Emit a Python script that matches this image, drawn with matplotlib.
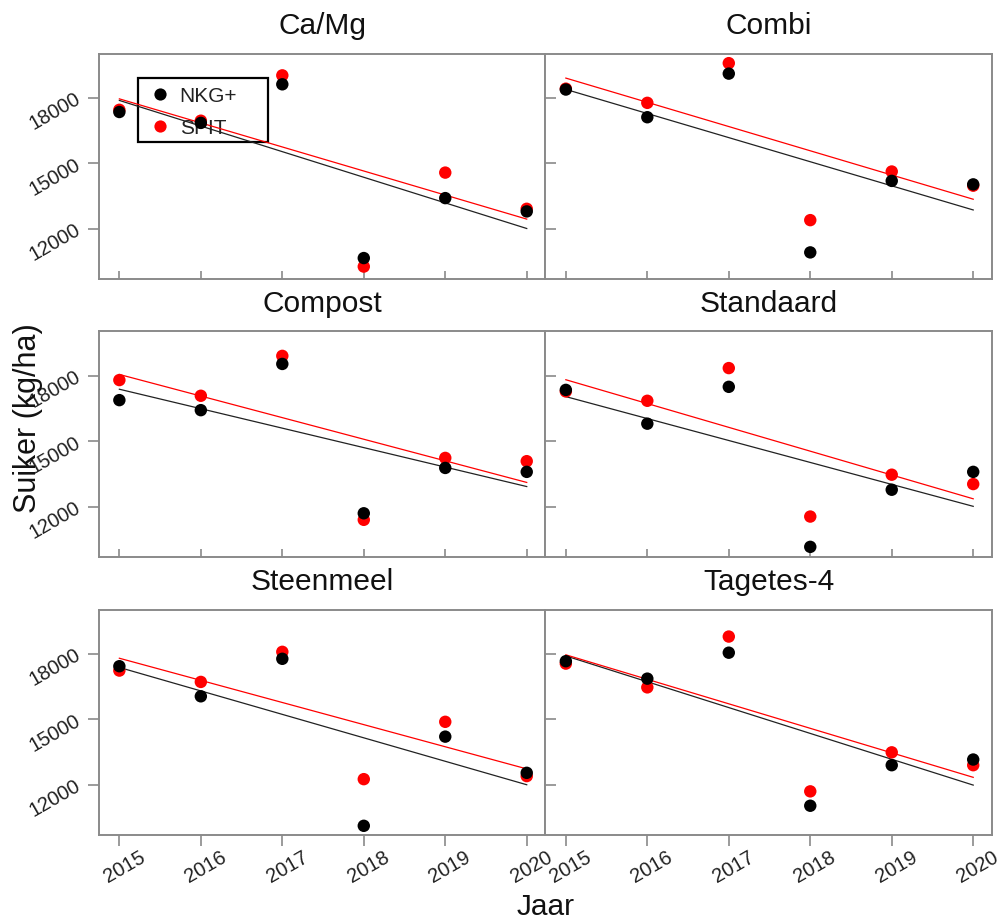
import numpy as np
import matplotlib
matplotlib.use('Agg')
import matplotlib.pyplot as plt
from matplotlib.lines import Line2D
from matplotlib.patches import Rectangle

plt.rcParams['font.family'] = ['Liberation Sans', 'DejaVu Sans']

'''Data: sugar yield per treatment and year'''
years = [2015, 2016, 2017, 2018, 2019, 2020]
treatments = ['Ca/Mg', 'Combi', 'Compost', 'Standaard', 'Steenmeel', 'Tagetes-4']

nkg_camg = [17350, 16850, 18620, 10650, 13400, 12790]
spit_camg = [17450, 16950, 19030, 10260, 14570, 12910]
nkg_combi = [18380, 17110, 19110, 10910, 14190, 14030]
spit_combi = [18420, 17770, 19590, 12390, 14620, 13970]
nkg_compost = [16880, 16420, 18540, 11690, 13770, 13590]
spit_compost = [17800, 17080, 18910, 11390, 14230, 14080]
nkg_standaard = [17350, 15800, 17490, 10150, 12770, 13590]
spit_standaard = [17280, 16850, 18350, 11540, 13460, 13030]
nkg_steenmeel = [17430, 16050, 17770, 10110, 14200, 12540]
spit_steenmeel = [17230, 16710, 18090, 12250, 14880, 12390]
nkg_tagetes = [17660, 16860, 18050, 11030, 12890, 13150]
spit_tagetes = [17550, 16460, 18790, 11690, 13480, 12890]

nkg = [nkg_camg, nkg_combi, nkg_compost, nkg_standaard, nkg_steenmeel, nkg_tagetes]
spit = [spit_camg, spit_combi, spit_compost, spit_standaard, spit_steenmeel, spit_tagetes]

y_ticks = [12000, 15000, 18000]

'''Panel layout (3 rows x 2 columns, no gap between columns)'''
fig = plt.figure(figsize=(10.04, 9.22), dpi=100)
lefts = [0.0986, 0.5433]
bottoms = [0.6974, 0.3960, 0.0944]
width, height = 0.4447, 0.2445
frame = '#8a8a8a'
txt = '#222222'

x = np.array(years)
for k, name in enumerate(treatments):
    row, col = k // 2, k % 2
    ax = fig.add_axes([lefts[col], bottoms[row], width, height])

    # regression lines over the range of the years
    for vals, c in [(nkg[k], '#222222'), (spit[k], '#ff0000')]:
        slope, icpt = np.polyfit(x, vals, 1)
        ax.plot([x[0], x[-1]], [icpt + slope * x[0], icpt + slope * x[-1]],
                color=c, lw=0.9, zorder=3)

    # points, SPIT first so NKG+ sits on top
    ax.scatter(x, spit[k], s=80, color='#ff0000', edgecolors='none', zorder=4)
    ax.scatter(x, nkg[k], s=80, color='black', edgecolors='none', zorder=5)

    ax.set_xlim(2014.75, 2020.23)
    ax.set_ylim(9690, 20030)
    ax.set_xticks(years)
    ax.set_yticks(y_ticks)

    for s in ax.spines.values():
        s.set_color(frame)
        s.set_linewidth(1.4)

    # y axis: labelled on the left column, inward ticks on the right column
    if col == 0:
        ax.tick_params(axis='y', direction='out', length=7.7, width=1.2, color=frame,
                       labelsize=14.5, labelcolor=txt, pad=7)
        for lab in ax.get_yticklabels():
            lab.set_rotation(30)
            lab.set_rotation_mode('anchor')
            lab.set_ha('right')
            lab.set_va('center')
    else:
        ax.tick_params(axis='y', direction='in', length=7.7, width=1.2, color=frame,
                       labelleft=False)

    # x axis: labelled on the bottom row only
    if row == 2:
        ax.tick_params(axis='x', direction='out', length=8, width=1.2, color=frame,
                       labelsize=14.5, labelcolor=txt, pad=9)
        for lab in ax.get_xticklabels():
            lab.set_rotation(30)
            lab.set_rotation_mode('anchor')
            lab.set_ha('center')
            lab.set_va('top')
    else:
        ax.tick_params(axis='x', direction='in', length=5.5, width=1.2, color=frame,
                       labelbottom=False)

    ax.text(0.5, 1.06, name, transform=ax.transAxes, ha='center', va='bottom',
            fontsize=21.5, color='#111111')

    if k == 0:
        # legend box behind the points, as an open frame
        ax.add_patch(Rectangle((0.087, 0.609), 0.291, 0.284, transform=ax.transAxes,
                               fill=False, edgecolor='black', lw=1.6, zorder=2))
        handles = [Line2D([], [], ls='none', marker='o', ms=8.8, color='black', mec='none'),
                   Line2D([], [], ls='none', marker='o', ms=8.8, color='#ff0000', mec='none')]
        leg = ax.legend(handles, ['NKG+', 'SPIT'], loc='upper left',
                        bbox_to_anchor=(0.113, 0.853), fontsize=15, frameon=False,
                        handletextpad=0.45, borderpad=0, borderaxespad=0,
                        labelspacing=0.62, handlelength=1.0)
        for t in leg.get_texts():
            t.set_color(txt)
        leg.set_zorder(2)

'''Axis titles'''
fig.text(0.028, 0.5466, 'Suiker (kg/ha)', rotation=90, ha='center', va='center',
         fontsize=22, color='#111111')
fig.text(0.543, 0.008, 'Jaar', ha='center', va='baseline', fontsize=21.5, color='#111111')

fig.savefig('out.png', dpi=100)
